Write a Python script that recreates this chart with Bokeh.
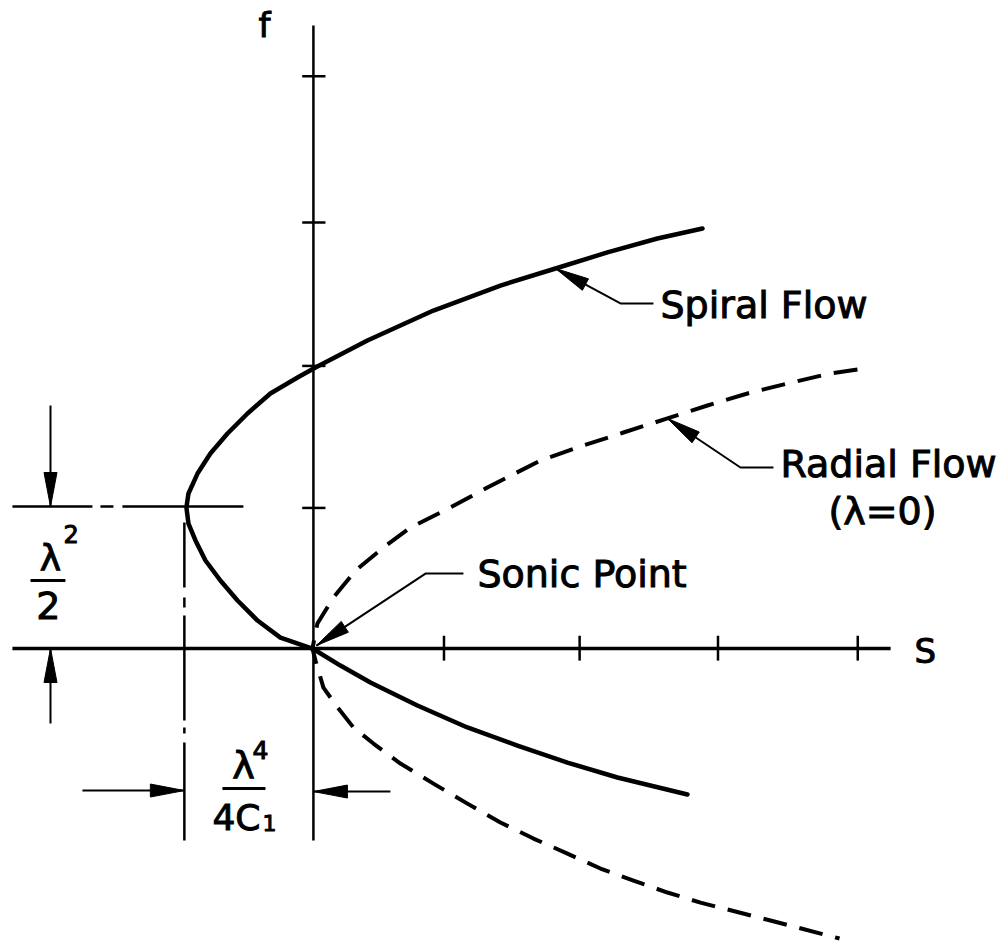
import math
from bokeh.plotting import figure
from bokeh.models import Range1d, Label
from bokeh.embed import file_html
from bokeh.resources import INLINE

# ---------------- data (units = tick spacing) ----------------
spiral_S = [2.847, 2.518, 2.153, 1.774, 1.372, 0.883, 0.401, 0.022, -0.109, -0.307,
            -0.474, -0.620, -0.745, -0.839, -0.905, -0.920, -0.905, -0.854, -0.781, -0.672,
            -0.547, -0.401, -0.234, 0.0, 0.204, 0.423, 0.766, 1.131, 1.496, 1.861,
            2.226, 2.737]
spiral_f = [2.958, 2.887, 2.789, 2.676, 2.556, 2.380, 2.169, 1.979, 1.908, 1.796,
            1.655, 1.514, 1.373, 1.232, 1.092, 0.993, 0.880, 0.761, 0.620, 0.479,
            0.338, 0.197, 0.077, 0.0, -0.120, -0.239, -0.401, -0.556, -0.683, -0.803,
            -0.908, -1.028]

radial_S = [3.978, 3.781, 3.467, 3.175, 2.883, 2.591, 2.270, 1.978, 1.664, 1.277,
            1.007, 0.715, 0.518, 0.314, 0.153, 0.036, 0.0, 0.022, 0.080, 0.190,
            0.299, 0.445, 0.642, 0.883, 1.131, 1.372, 1.613, 1.861, 2.102, 2.343,
            2.591, 2.832, 3.343, 3.847]
radial_f = [1.965, 1.937, 1.866, 1.796, 1.711, 1.620, 1.521, 1.430, 1.324, 1.134,
            0.993, 0.852, 0.711, 0.549, 0.359, 0.176, 0.0, -0.085, -0.275, -0.423,
            -0.556, -0.669, -0.810, -0.951, -1.092, -1.225, -1.338, -1.444, -1.549, -1.634,
            -1.718, -1.789, -1.915, -2.042]

s_ticks = [0.96, 1.95, 2.96, 3.98]
f_ticks = [0.99, 1.99, 3.0, 4.03]

vertex_S = -0.935   # -lambda^4 / 4C1
vertex_f = 1.0      # lambda^2 / 2

# ---------------- figure ----------------
W, H = 1000, 943
X0, X1 = -2.277, 5.022
Y0, Y1 = -2.077, 4.563
KX = W / (X1 - X0)
KY = H / (Y1 - Y0)

p = figure(width=W, height=H, x_range=Range1d(X0, X1), y_range=Range1d(Y0, Y1),
           output_backend="svg", toolbar_location=None, min_border=0,
           x_axis_type=None, y_axis_type=None)
p.grid.visible = False
p.outline_line_color = None
p.background_fill_color = "white"
p.border_fill_color = "white"

INK = "black"
FONT = "DejaVu Sans"


def head(tip, tail, L=34, Wd=13):
    tx, ty = tip
    bx, by = tail
    dx = (bx - tx) * KX
    dy = (by - ty) * KY
    n = math.hypot(dx, dy)
    ux, uy = dx / n, dy / n
    cx, cy = L * ux, L * uy
    px_, py_ = -uy * Wd / 2, ux * Wd / 2
    pts = [(0, 0), (cx + px_, cy + py_), (cx - px_, cy - py_)]
    return [tx + a / KX for a, _ in pts], [ty + b / KY for _, b in pts]


def arrow(tip, path):
    xs = [tip[0]] + [q[0] for q in path]
    ys = [tip[1]] + [q[1] for q in path]
    p.line(xs, ys, line_color=INK, line_width=2)
    hx, hy = head(tip, path[0])
    p.patch(hx, hy, fill_color=INK, line_color=INK, line_width=1)


# axes
p.line([-2.19, 4.22], [0, 0], line_color=INK, line_width=3.5)
p.line([0.007, 0.007], [-1.352, 4.387], line_color=INK, line_width=2.5)
p.segment(x0=s_ticks, y0=[0.09] * len(s_ticks), x1=s_ticks, y1=[-0.085] * len(s_ticks),
          line_color=INK, line_width=2.5)
p.segment(x0=[-0.075] * len(f_ticks), y0=f_ticks, x1=[0.095] * len(f_ticks), y1=f_ticks,
          line_color=INK, line_width=2.5)

# curves
p.line(spiral_S, spiral_f, line_color=INK, line_width=4.5, line_join="round", line_cap="round")
p.line(radial_S, radial_f, line_color=INK, line_width=4, line_dash="24 13", line_join="round")

# dash-dot dimension lines
p.line([-2.19, -0.504], [vertex_f, vertex_f], line_color=INK, line_width=2.5,
       line_dash="80 8 13 9 200")
p.line([vertex_S, vertex_S], [0.887, -1.352], line_color=INK, line_width=2.5,
       line_dash="65 10 10 8 105 7 6 9 110")

# dimension arrows
arrow((-1.912, vertex_f), [(-1.912, 1.711)])
arrow((-1.912, 0.0), [(-1.912, -0.528)])
arrow((vertex_S, -1.0), [(-1.679, -1.0)])
arrow((0.007, -1.007), [(0.569, -1.007)])

# leader arrows
arrow((0.029, 0.021), [(0.825, 0.528), (1.102, 0.528)])
arrow((1.774, 2.676), [(2.248, 2.430), (2.489, 2.430)])
arrow((2.591, 1.620), [(3.124, 1.275), (3.365, 1.275)])

# fraction bars
p.line([-2.058, -1.803], [0.479, 0.479], line_color=INK, line_width=3)
p.line([-0.657, -0.343], [-0.986, -0.986], line_color=INK, line_width=3)

TEXT_DY = 0.092


def lab(x, y, t, size=38, align="left"):
    p.add_layout(Label(x=x, y=y + TEXT_DY, text=t, text_font=FONT,
                       text_font_size=f"{size}px", text_color=INK,
                       text_outline_color=INK,
                       text_align=align, text_baseline="alphabetic"))


lab(-0.394, 4.296, "f", 34)
lab(4.394, -0.106, "S", 34)
lab(-1.912, 0.549, "λ", 36, "center")
lab(-1.818, 0.711, "2", 24)
lab(-1.927, 0.211, "2", 38, "center")
lab(-0.504, -0.915, "λ", 38, "center")
lab(-0.438, -0.810, "4", 25)
lab(-0.730, -1.282, "4C", 36)
lab(-0.365, -1.317, "1", 22)
lab(1.204, 0.430, "Sonic Point")
lab(2.540, 2.324, "Spiral Flow")
lab(3.416, 1.204, "Radial Flow")
lab(4.161, 0.873, "(λ=0)", 38, "center")

open("out.html", "w").write(file_html(p, INLINE))
